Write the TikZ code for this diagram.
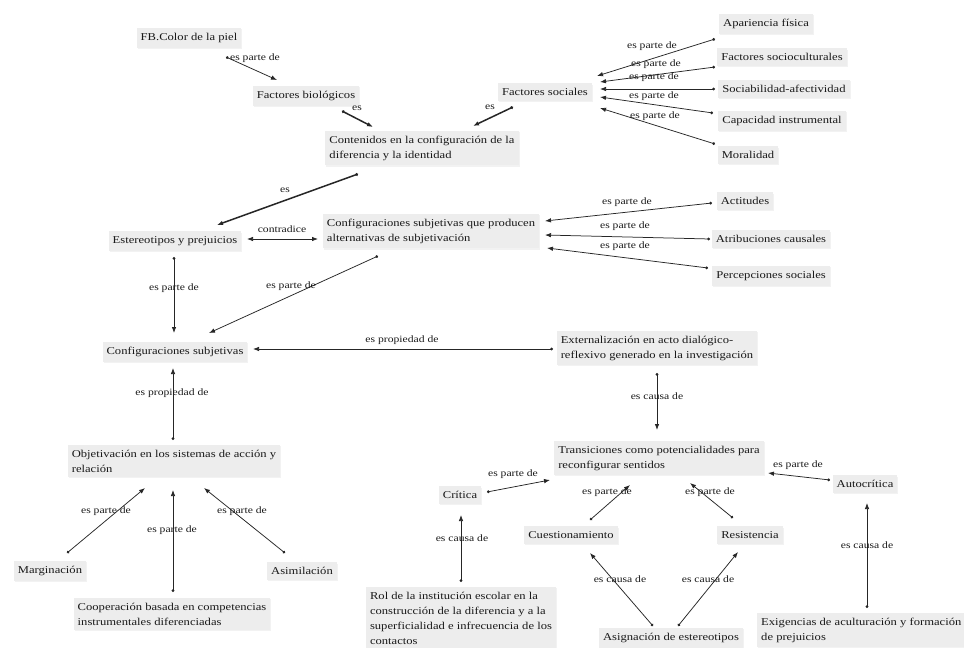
\documentclass[tikz,border=0pt]{standalone}
\usepackage{fontspec}
\setmainfont[FakeStretch=1.2]{Liberation Serif}
\usetikzlibrary{arrows.meta,calc,shadows}
\begin{document}
\begin{tikzpicture}[x=1pt,y=-1pt,
  concept/.style={fill=black!7, text=black!90, inner xsep=4pt, inner ysep=5pt,
    font=\fontsize{10.5}{15}\selectfont, align=left,
    drop shadow={shadow xshift=1pt,shadow yshift=-1.2pt,opacity=0.10}},
  lbl/.style={font=\fontsize{9.7}{11}\selectfont, text=black!90, inner sep=0pt},
  rel/.style={draw=black!85, line width=0.75pt, {Circle[length=2.8pt]}-{Latex[length=6pt,width=4.5pt]}},
  relb/.style={rel, line width=1.5pt},
  both/.style={draw=black!85, line width=0.75pt, {Latex[length=6pt,width=4.5pt]}-{Latex[length=6pt,width=4.5pt]}},
]
\useasboundingbox (0,0) rectangle (964,648);
\fill[white] (0,0) rectangle (964,648);

% ---- nodes ----
\node[concept] (fb) at (189,38) {FB.Color de la piel};
\node[concept] (bio) at (306,96) {Factores biológicos};
\node[concept] (cont) at (422,148) {Contenidos en la configuración de la\\diferencia y la identidad};
\node[concept] (soc) at (545,92) {Factores sociales};
\node[concept] (ap) at (766,24) {Apariencia física};
\node[concept] (scult) at (782,57) {Factores socioculturales};
\node[concept] (sociab) at (784,89) {Sociabilidad-afectividad};
\node[concept] (cap) at (782,121) {Capacidad instrumental};
\node[concept] (mor) at (748,155) {Moralidad};
\node[concept] (est) at (175,241) {Estereotipos y prejuicios};
\node[concept] (cqp) at (431,231) {Configuraciones subjetivas que producen\\alternativas de subjetivación};
\node[concept] (act) at (745,201) {Actitudes};
\node[concept] (atr) at (771,239) {Atribuciones causales};
\node[concept] (per) at (771,276) {Percepciones sociales};
\node[concept] (csub) at (175,352) {Configuraciones subjetivas};
\node[concept] (ext) at (657,348) {Externalización en acto dialógico-\\reflexivo generado en la investigación};
\node[concept] (obj) at (174,461) {Objetivación en los sistemas de acción y\\relación};
\node[concept] (marg) at (50,571) {Marginación};
\node[concept] (asim) at (302,571) {Asimilación};
\node[concept] (coop) at (172,614) {Cooperación basada en competencias\\instrumentales diferenciadas};
\node[concept] (trans) at (659,458) {Transiciones como potencialidades para\\reconfigurar sentidos};
\node[concept] (crit) at (460,495) {Crítica};
\node[concept] (cuest) at (571,535) {Cuestionamiento};
\node[concept] (res) at (750,535) {Resistencia};
\node[concept] (auto) at (865,484) {Autocrítica};
\node[concept] (rol) at (461,618) {Rol de la institución escolar en la\\construcción de la diferencia y a la\\superficialidad e infrecuencia de los\\contactos};
\node[concept] (asig) at (671,638) {Asignación de estereotipos};
\node[concept, anchor=west] (exig) at (757,630) {Exigencias de aculturación y formación\\de prejuicios};

% ---- connectors ----
\draw[rel] ($(fb)+(37,19)$) -- ($(bio)+(-29,-16)$);
\draw[relb] ($(bio)+(36,15)$) -- ($(cont)+(-49,-21)$);
\draw[relb] ($(soc)+(-32,15)$) -- ($(cont)+(51,-22)$);
\draw[rel] ($(ap)+(-51,15)$) -- ($(soc)+(52,-16)$);
\draw[rel] ($(scult)+(-67,10)$) -- ($(soc)+(55,-10)$);
\draw[rel] ($(sociab)+(-69,0)$) -- ($(soc)+(55,-3)$);
\draw[rel] ($(cap)+(-69,-8)$) -- ($(soc)+(55,5)$);
\draw[rel] ($(mor)+(-33,-11)$) -- ($(soc)+(55,16)$);
\draw[relb] ($(cont)+(-64,26)$) -- ($(est)+(42,-16)$);
\draw[both] ($(est)+(72,-2)$) -- ($(cqp)+(-113,8)$);
\draw[rel] ($(est)+(-1,16)$) -- ($(csub)+(-1,-19)$);
\draw[rel] ($(cqp)+(-53,25)$) -- ($(csub)+(34,-19)$);
\draw[rel] ($(ext)+(-104,1)$) -- ($(csub)+(78,-3)$);
\draw[rel] ($(act)+(-33,2)$) -- ($(cqp)+(114,-10)$);
\draw[rel] ($(atr)+(-61,0)$) -- ($(cqp)+(114,4)$);
\draw[rel] ($(per)+(-63,-8)$) -- ($(cqp)+(116,17)$);
\draw[rel] ($(obj)+(-1,-21)$) -- ($(csub)+(-2,16)$);
\draw[rel] ($(marg)+(17,-18)$) -- ($(obj)+(-29,27)$);
\draw[rel] ($(coop)+(1,-22)$) -- ($(obj)+(-1,29)$);
\draw[rel] ($(asim)+(-17,-18)$) -- ($(obj)+(30,27)$);
\draw[rel] ($(ext)+(0,25)$) -- ($(trans)+(-2,-28)$);
\draw[rel] ($(crit)+(27,-3)$) -- ($(trans)+(-109,22)$);
\draw[rel] ($(cuest)+(19,-15)$) -- ($(trans)+(-29,27)$);
\draw[rel] ($(res)+(-17,-17)$) -- ($(trans)+(31,25)$);
\draw[rel] ($(auto)+(-35,-4)$) -- ($(trans)+(109,15)$);
\draw[rel] ($(rol)+(0,-36)$) -- ($(crit)+(1,20)$);
\draw[rel] ($(asig)+(-18,-12)$) -- ($(cuest)+(19,18)$);
\draw[rel] ($(asig)+(7,-12)$) -- ($(res)+(-12,17)$);
\draw[rel] ($(exig.west)+(110,-22)$) -- ($(auto)+(2,19)$);

% ---- labels ----
\node[lbl] (l1) at (255,58) {es parte de};
\node[lbl] (l2) at (357,108) {es};
\node[lbl] (l3) at (490,107) {es};
\node[lbl] (l4) at (652,46) {es parte de};
\node[lbl] (l5) at (656,64) {es parte de};
\node[lbl] (l6) at (654,77) {es parte de};
\node[lbl] (l7) at (654,96) {es parte de};
\node[lbl] (l8) at (655,116) {es parte de};
\node[lbl] (l9) at (285,190) {es};
\node[lbl] (l10) at (282,229) {contradice};
\node[lbl] (l11) at (174,288) {es parte de};
\node[lbl] (l12) at (291,286) {es parte de};
\node[lbl] (l13) at (402,340) {es propiedad de};
\node[lbl] (l14) at (627,202) {es parte de};
\node[lbl] (l15) at (625,226) {es parte de};
\node[lbl] (l16) at (625,246) {es parte de};
\node[lbl] (l17) at (172,393) {es propiedad de};
\node[lbl] (l18) at (106,511) {es parte de};
\node[lbl] (l19) at (172,530) {es parte de};
\node[lbl] (l20) at (242,511) {es parte de};
\node[lbl] (l21) at (657,396) {es causa de};
\node[lbl] (l22) at (513,474) {es parte de};
\node[lbl] (l23) at (607,492) {es parte de};
\node[lbl] (l24) at (710,492) {es parte de};
\node[lbl] (l25) at (798,465) {es parte de};
\node[lbl] (l26) at (462,538) {es causa de};
\node[lbl] (l27) at (620,579) {es causa de};
\node[lbl] (l28) at (708,579) {es causa de};
\node[lbl] (l29) at (867,545) {es causa de};
\end{tikzpicture}
\end{document}
